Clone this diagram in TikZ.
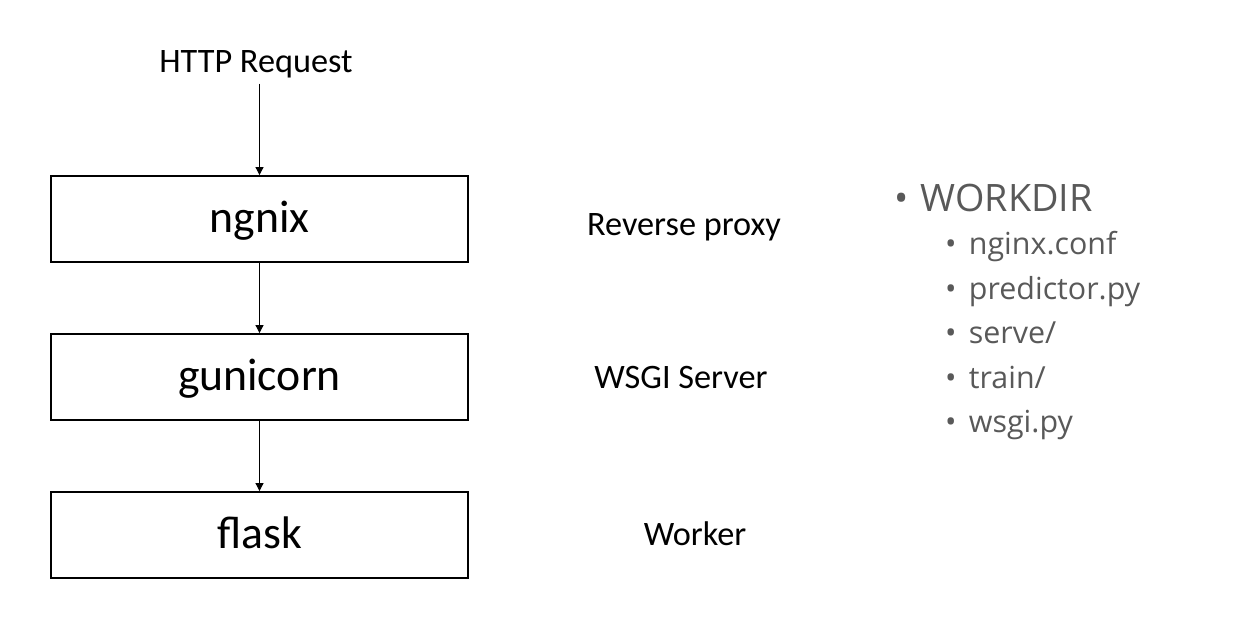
\documentclass[tikz,border=0pt]{standalone}
\usepackage{fontspec}
\setmainfont{Carlito}
\newfontfamily\listfont{Open Sans}
\usetikzlibrary{arrows.meta}

\definecolor{listgray}{RGB}{89,89,89}

\begin{document}
\begin{tikzpicture}[x=0.02cm,y=-0.02cm,
    layer/.style={draw,line width=1.1pt,minimum width=8.34cm,minimum height=1.72cm,
                  text height=19pt,text depth=3.1pt,font=\fontsize{26}{31}\selectfont},
    role/.style={anchor=base,font=\fontsize{19.5}{24}\selectfont},
    flow/.style={line width=0.6pt,-{Triangle[length=4.5pt,width=4.5pt]}},
    item/.style={anchor=base west,text=listgray,font=\listfont\fontsize{17.3}{21}\selectfont}]

\useasboundingbox (0,0) rectangle (1234,616);

\node (req) at (256,72) [role] {HTTP Request};

\node (ngnix) at (259.5,219) [layer] {ngnix};
\node (gunicorn) at (259.5,377) [layer] {gunicorn};
\node (flask) at (259.5,535) [layer] {flask};

\node (proxy) at (684,235) [role] {Reverse proxy};
\node (wsgi) at (681,388) [role] {WSGI Server};
\node (worker) at (695,545) [role] {Worker};

\draw [flow] (ngnix.north |- req.south) -- (ngnix);
\draw [flow] (ngnix) -- (gunicorn);
\draw [flow] (gunicorn) -- (flask);

%% workdir listing
\node (workdir) at (888,211) [item,font=\listfont\fontsize{21.5}{25}\selectfont] {•\hspace{7pt}WORKDIR};
\node (f1) at (939,254) [item] {•\hspace{7pt}nginx.conf};
\node (f2) at (939,299) [item] {•\hspace{7pt}predictor.py};
\node (f3) at (939,343) [item] {•\hspace{7pt}serve/};
\node (f4) at (939,388) [item] {•\hspace{7pt}train/};
\node (f5) at (939,432) [item] {•\hspace{7pt}wsgi.py};

\end{tikzpicture}
\end{document}
